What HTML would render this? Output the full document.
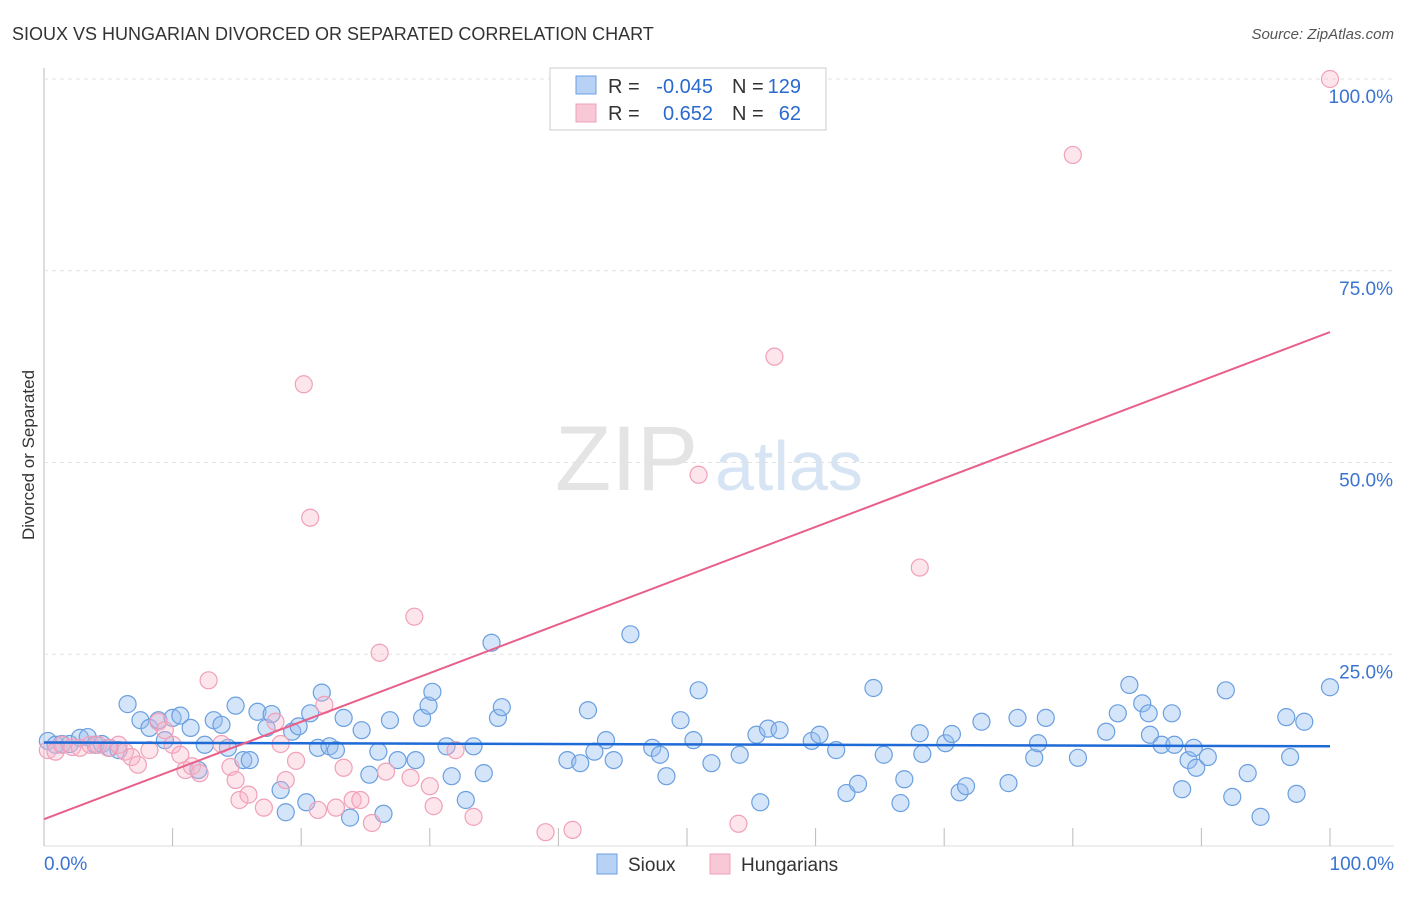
<!DOCTYPE html>
<html><head><meta charset="utf-8"><style>
body{margin:0;background:#fff;font-family:"Liberation Sans",sans-serif}
svg text{font-family:"Liberation Sans",sans-serif}
</style></head><body>
<svg id="chart" width="1406" height="892">
<text x="12" y="40" font-size="18" fill="#333">SIOUX VS HUNGARIAN DIVORCED OR SEPARATED CORRELATION CHART</text>
<text x="1394" y="39" font-size="15" fill="#555" font-style="italic" text-anchor="end">Source: ZipAtlas.com</text>
<text x="34" y="455" font-size="17" fill="#333" text-anchor="middle" transform="rotate(-90 34 455)">Divorced or Separated</text>
<g><text x="555" y="490" font-size="92" fill="#e4e4e4" font-family="Liberation Serif">ZIP</text><text x="715" y="490" font-size="70" fill="#d6e4f4">atlas</text></g>
<g id="grid"></g><g id="pts"></g><g id="lines"></g>
<g>
<rect x="550" y="68" width="276" height="62" fill="#fff" stroke="#ccc"/>
<rect x="576" y="76" width="20" height="18" fill="#b8d2f6" stroke="#6a9fe0"/>
<text x="608" y="93" font-size="20" fill="#333">R =</text>
<text x="713" y="93" font-size="20" fill="#2a6ad0" text-anchor="end">-0.045</text>
<text x="732" y="93" font-size="20" fill="#333">N =</text>
<text x="801" y="93" font-size="20" fill="#2a6ad0" text-anchor="end">129</text>
<rect x="576" y="104" width="20" height="18" fill="#f8c8d6" stroke="#f0a0b8"/>
<text x="608" y="120" font-size="20" fill="#333">R =</text>
<text x="713" y="120" font-size="20" fill="#2a6ad0" text-anchor="end">0.652</text>
<text x="732" y="120" font-size="20" fill="#333">N =</text>
<text x="801" y="120" font-size="20" fill="#2a6ad0" text-anchor="end">62</text>
</g>
<g>
<rect x="597" y="854" width="20" height="20" fill="#b8d2f6" stroke="#6a9fe0"/><text x="628" y="871" font-size="19" fill="#333">Sioux</text>
<rect x="710" y="854" width="20" height="20" fill="#f8c8d6" stroke="#f0a0b8"/><text x="741" y="871" font-size="19" fill="#333">Hungarians</text>
</g>
</svg>
<script>
const yTicks=[25,50,75,100];
const yTickLabels=["25.0%","50.0%","75.0%","100.0%"];
const xTickLabels=["0.0%","100.0%"];
const siouxX=[0.3,0.9,1.4,2.0,2.8,3.4,4.0,4.5,5.1,5.8,6.5,7.5,8.2,8.9,9.4,10.0,10.6,11.4,12.0,12.5,13.2,13.8,14.3,14.9,15.5,16.0,16.6,17.3,17.7,18.4,18.8,19.3,19.8,20.4,20.7,21.3,21.6,22.2,22.7,23.3,23.8,24.7,25.3,26.0,26.4,26.9,27.5,28.9,29.4,29.9,30.2,31.3,31.7,32.8,33.4,34.2,34.8,35.3,35.6,40.7,41.7,42.3,42.8,43.7,44.3,45.6,47.3,47.9,48.4,49.5,50.5,50.9,51.9,54.1,55.4,55.7,56.3,57.2,59.7,60.3,61.6,62.4,63.3,64.5,65.3,66.6,66.9,68.1,68.3,70.1,70.6,71.2,71.7,72.9,75.0,75.7,77.0,77.3,77.9,80.4,82.6,83.5,84.4,85.4,85.9,86.0,86.9,87.7,87.9,88.5,89.0,89.4,89.6,90.5,91.9,92.4,93.6,94.6,96.6,96.9,97.4,98.0,100];
const siouxY=[13.7,13.2,13.3,13.3,14.1,14.2,13.2,13.3,12.8,12.5,18.5,16.4,15.4,16.4,13.8,16.7,17.0,15.4,9.9,13.2,16.4,15.8,12.8,18.3,11.2,11.2,17.5,15.4,17.2,7.3,4.4,14.9,15.6,5.7,17.3,12.8,20.0,13.0,12.5,16.7,3.7,15.1,9.3,12.3,4.2,16.4,11.2,11.2,16.7,18.3,20.1,13.0,9.1,6.0,13.0,9.5,26.5,16.7,18.1,11.2,10.8,17.7,12.3,13.8,11.2,27.6,12.8,11.9,9.1,16.4,13.8,20.3,10.8,11.9,14.5,5.7,15.3,15.1,13.7,14.5,12.5,6.9,8.1,20.6,11.9,5.6,8.7,14.7,12.0,13.4,14.6,7.0,7.8,16.2,8.2,16.7,11.5,13.4,16.7,11.5,14.9,17.3,21.0,18.6,17.3,14.5,13.2,17.3,13.2,7.4,11.2,12.8,10.2,11.6,20.3,6.4,9.5,3.8,16.8,11.6,6.8,16.2,20.7];
const hungX=[0.3,0.9,1.4,2.2,2.8,3.6,4.2,5.0,5.8,6.3,6.8,7.3,8.2,8.9,9.4,10.0,10.6,11.0,11.5,12.1,12.8,13.8,14.5,14.9,15.2,15.9,17.1,18.0,18.4,18.8,19.6,20.2,20.7,21.3,21.8,22.7,23.3,24.0,24.6,25.5,26.1,26.6,28.5,28.8,30.0,30.3,32.0,33.4,39.0,41.1,50.9,54.0,56.8,68.1,80.0,100];
const hungY=[12.5,12.3,13.2,12.9,12.8,13.2,13.2,12.8,13.2,12.3,11.6,10.6,12.5,16.2,15.1,13.2,11.9,9.9,10.4,9.5,21.6,13.3,10.3,8.6,6.0,6.7,5.0,16.2,13.3,8.6,11.1,60.2,42.8,4.7,18.4,5.0,10.2,6.0,6.0,3.0,25.2,9.7,8.9,29.9,7.8,5.2,12.5,3.8,1.8,2.1,48.4,2.9,63.8,36.3,90.1,100];
const siouxFit=[13.5,13.0];
const hungFit=[3.5,67];
const NS="http://www.w3.org/2000/svg";
const X0=44,X1=1330,Y0=846,Y100=79;
const sx=v=>X0+(X1-X0)*v/100, sy=v=>Y0-(Y0-Y100)*v/100;
function mk(t,a,p){const e=document.createElementNS(NS,t);for(const k in a)e.setAttribute(k,a[k]);p.appendChild(e);return e;}
const grid=document.getElementById('grid');
const ax=mk('line',{x1:X0,y1:68,x2:X0,y2:Y0,stroke:'#bbb'},grid);


const bx=mk('line',{x1:X0,y1:Y0,x2:1394,y2:Y0,stroke:'#ddd'},grid);


yTicks.forEach((t,i)=>{
 const g=mk('line',{x1:X0,y1:sy(t),x2:1394,y2:sy(t),stroke:'#e2e2e2','stroke-dasharray':'4 4'},grid);
 
 
 const l=mk('text',{x:1393,y:sy(t)+24,'font-size':19,fill:'#3a74d0','text-anchor':'end'},grid);l.textContent=yTickLabels[i];
 
 
});
for(let i=0;i<=10;i++){const t=mk('line',{x1:sx(i*10),y1:828,x2:sx(i*10),y2:Y0,stroke:'#bbb'},grid);
 
 }
[[0,'start',44],[100,'end',1394]].forEach((d,i)=>{const l=mk('text',{x:d[2],y:870,'font-size':19,fill:'#3a74d0','text-anchor':d[1]},grid);l.textContent=xTickLabels[i];
 
 });
const pts=document.getElementById('pts');
siouxX.forEach((x,i)=>{const c=mk('circle',{cx:sx(x),cy:sy(siouxY[i]),r:8.5,fill:'rgba(150,190,240,0.4)',stroke:'#6a9fe0','stroke-width':1.2},pts);
 
 });
hungX.forEach((x,i)=>{const c=mk('circle',{cx:sx(x),cy:sy(hungY[i]),r:8.5,fill:'rgba(248,180,200,0.35)',stroke:'#f0a0b8','stroke-width':1.2},pts);
 
 });
const lines=document.getElementById('lines');
const l1=mk('line',{x1:sx(0),y1:sy(siouxFit[0]),x2:sx(100),y2:sy(siouxFit[1]),stroke:'#1e6ad6','stroke-width':2.5},lines);


const l2=mk('line',{x1:sx(0),y1:sy(hungFit[0]),x2:sx(100),y2:sy(hungFit[1]),stroke:'#e8608a','stroke-width':2},lines);


</script>
</body></html>
